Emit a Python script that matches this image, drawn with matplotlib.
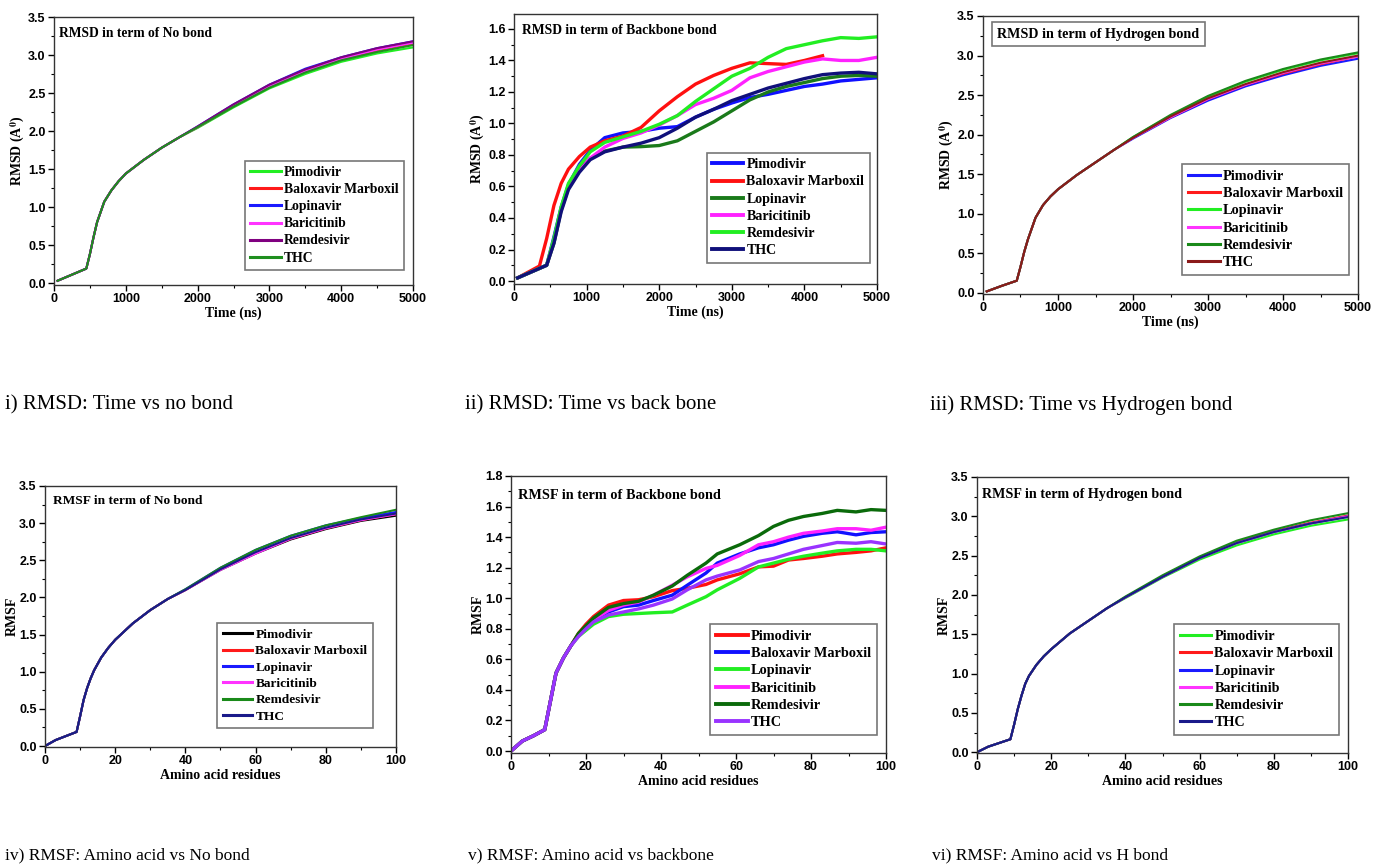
import matplotlib
matplotlib.use('Agg')
import matplotlib.pyplot as plt
from matplotlib.ticker import MultipleLocator
import numpy as np

plt.rcParams['mathtext.fontset'] = 'stix'

drugs = ['Pimodivir', 'Baloxavir Marboxil', 'Lopinavir', 'Baricitinib', 'Remdesivir', 'THC']

# ---- i) RMSD, no bond (shared start, separate tails) ----
t1_head = [50, 250, 450, 500, 550, 600, 700, 800, 900, 1000, 1250, 1500, 1750]
r1_head = [0.03, 0.11, 0.19, 0.38, 0.60, 0.80, 1.07, 1.22, 1.34, 1.44, 1.62, 1.78, 1.92]
t1_tail = [2000, 2500, 3000, 3500, 4000, 4500, 5000]
r1_tail = [
    [2.04, 2.31, 2.56, 2.75, 2.91, 3.02, 3.10],
    [2.05, 2.33, 2.58, 2.78, 2.94, 3.06, 3.15],
    [2.06, 2.35, 2.61, 2.82, 2.97, 3.09, 3.18],
    [2.05, 2.33, 2.59, 2.79, 2.95, 3.07, 3.16],
    [2.06, 2.35, 2.61, 2.81, 2.97, 3.09, 3.18],
    [2.05, 2.32, 2.57, 2.77, 2.93, 3.04, 3.13],
]

# ---- ii) RMSD, backbone ----
t2 = [50, 350, 450, 550, 650, 750, 900, 1050, 1250, 1500, 1750, 2000, 2250, 2500,
      2750, 3000, 3250, 3500, 3750, 4000, 4250, 4500, 4750, 5000]
r2 = [
    [0.02, 0.08, 0.10, 0.28, 0.47, 0.61, 0.74, 0.83, 0.91, 0.94, 0.95, 0.97, 0.98, 1.04,
     1.09, 1.13, 1.165, 1.185, 1.21, 1.235, 1.25, 1.27, 1.28, 1.29],
    [0.02, 0.095, 0.27, 0.48, 0.62, 0.71, 0.79, 0.85, 0.89, 0.92, 0.975, 1.08, 1.17, 1.25,
     1.305, 1.35, 1.385, 1.38, 1.375, 1.40, 1.43, np.nan, np.nan, np.nan],
    [0.02, 0.08, 0.10, 0.24, 0.45, 0.59, 0.71, 0.78, 0.825, 0.85, 0.853, 0.86, 0.89, 0.95,
     1.01, 1.08, 1.15, 1.20, 1.235, 1.26, 1.285, 1.30, 1.305, 1.30],
    [0.02, 0.08, 0.10, 0.26, 0.46, 0.60, 0.70, 0.78, 0.85, 0.905, 0.94, 0.99, 1.05, 1.12,
     1.16, 1.21, 1.29, 1.33, 1.36, 1.39, 1.41, 1.40, 1.40, 1.42],
    [0.02, 0.08, 0.10, 0.27, 0.47, 0.62, 0.73, 0.82, 0.88, 0.915, 0.95, 0.995, 1.05, 1.14,
     1.22, 1.30, 1.35, 1.42, 1.475, 1.50, 1.525, 1.545, 1.54, 1.55],
    [0.02, 0.08, 0.10, 0.24, 0.44, 0.58, 0.69, 0.77, 0.82, 0.85, 0.875, 0.91, 0.97, 1.04,
     1.09, 1.145, 1.185, 1.225, 1.255, 1.285, 1.31, 1.32, 1.325, 1.315],
]

# ---- iii) RMSD, hydrogen bond ----
t3_head = [50, 250, 450, 500, 550, 600, 700, 800, 900, 1000, 1250, 1500, 1750]
r3_head = [0.02, 0.09, 0.155, 0.33, 0.52, 0.68, 0.95, 1.11, 1.22, 1.31, 1.49, 1.65, 1.81]
t3_tail = [2000, 2500, 3000, 3500, 4000, 4500, 5000]
r3_tail = [
    [1.95, 2.21, 2.43, 2.61, 2.75, 2.87, 2.96],
    [1.96, 2.22, 2.45, 2.63, 2.77, 2.89, 2.99],
    [1.97, 2.24, 2.48, 2.67, 2.82, 2.94, 3.03],
    [1.96, 2.22, 2.45, 2.63, 2.78, 2.90, 2.99],
    [1.97, 2.25, 2.49, 2.68, 2.83, 2.95, 3.04],
    [1.96, 2.23, 2.46, 2.64, 2.79, 2.91, 3.00],
]

# ---- iv) RMSF, no bond ----
a4_head = [0, 3, 9, 10, 11, 12, 13, 14, 16, 18, 20, 25, 30, 35]
f4_head = [0.0, 0.08, 0.19, 0.40, 0.62, 0.78, 0.91, 1.02, 1.19, 1.32, 1.43, 1.65, 1.83, 1.98]
a4_tail = [40, 50, 60, 70, 80, 90, 100]
f4_tail = [
    [2.10, 2.37, 2.59, 2.78, 2.92, 3.03, 3.10],
    [2.10, 2.38, 2.60, 2.79, 2.93, 3.04, 3.12],
    [2.11, 2.40, 2.64, 2.83, 2.97, 3.07, 3.15],
    [2.10, 2.37, 2.59, 2.79, 2.93, 3.04, 3.12],
    [2.11, 2.40, 2.64, 2.83, 2.97, 3.08, 3.18],
    [2.10, 2.38, 2.61, 2.80, 2.94, 3.05, 3.13],
]

# ---- v) RMSF, backbone ----
a5_head = [0, 3, 6, 9, 12, 14, 16]
f5_head = [0.0, 0.065, 0.10, 0.14, 0.51, 0.61, 0.69]
a5_tail = [18, 20, 22, 26, 30, 34, 38, 43, 47, 52, 55, 61, 66, 70, 74, 78, 83, 87, 92, 96, 100]
f5_tail = [
    [0.77, 0.83, 0.88, 0.955, 0.985, 0.99, 1.01, 1.05, 1.065, 1.09, 1.12, 1.16, 1.205, 1.21,
     1.25, 1.26, 1.275, 1.29, 1.30, 1.31, 1.33],
    [0.76, 0.81, 0.86, 0.91, 0.945, 0.955, 0.985, 1.02, 1.085, 1.165, 1.23, 1.29, 1.33, 1.35,
     1.38, 1.405, 1.425, 1.435, 1.415, 1.43, 1.435],
    [0.75, 0.79, 0.83, 0.88, 0.895, 0.90, 0.905, 0.91, 0.955, 1.01, 1.055, 1.13, 1.205, 1.23,
     1.255, 1.275, 1.295, 1.31, 1.32, 1.32, 1.31],
    [0.76, 0.81, 0.86, 0.92, 0.955, 0.975, 1.02, 1.085, 1.14, 1.195, 1.215, 1.28, 1.35, 1.37,
     1.40, 1.425, 1.44, 1.455, 1.455, 1.445, 1.465],
    [0.77, 0.82, 0.87, 0.94, 0.965, 0.98, 1.02, 1.08, 1.15, 1.23, 1.29, 1.35, 1.41, 1.47,
     1.51, 1.535, 1.555, 1.575, 1.565, 1.58, 1.575],
    [0.75, 0.80, 0.845, 0.89, 0.91, 0.93, 0.955, 0.995, 1.055, 1.12, 1.145, 1.185, 1.24, 1.26,
     1.29, 1.32, 1.345, 1.365, 1.36, 1.37, 1.355],
]

# ---- vi) RMSF, hydrogen bond ----
a6_head = [0, 3, 9, 10, 11, 12, 13, 14, 16, 18, 20, 25, 30, 35]
f6_head = [0.0, 0.07, 0.165, 0.35, 0.55, 0.72, 0.87, 0.97, 1.11, 1.22, 1.31, 1.51, 1.67, 1.83]
a6_tail = [40, 50, 60, 70, 80, 90, 100]
f6_tail = [
    [1.96, 2.22, 2.45, 2.63, 2.77, 2.88, 2.96],
    [1.97, 2.24, 2.48, 2.67, 2.81, 2.92, 3.01],
    [1.97, 2.23, 2.47, 2.66, 2.80, 2.91, 3.00],
    [1.97, 2.23, 2.47, 2.66, 2.80, 2.91, 3.00],
    [1.98, 2.25, 2.49, 2.69, 2.83, 2.95, 3.04],
    [1.97, 2.23, 2.47, 2.66, 2.80, 2.91, 2.99],
]

colors1 = ['#22ee22', '#ff1a1a', '#1a1aff', '#ff33ff', '#800080', '#1f8f1f']
colors2 = ['#1010ff', '#ff1010', '#1a7a1a', '#ff22ff', '#22ee22', '#10107a']
colors3 = ['#1a1aff', '#ff1a1a', '#22ee22', '#ff33ff', '#1a8a1a', '#8b1a1a']
colors4 = ['#000000', '#ff1a1a', '#1a1aff', '#ff33ff', '#1a8a1a', '#1a1a8a']
colors5 = ['#ff1010', '#1010ff', '#22ee22', '#ff22ff', '#0a6a0a', '#9933ff']
colors6 = ['#22ee22', '#ff1a1a', '#1a1aff', '#ff33ff', '#1a8a1a', '#1a1a8a']

SERIF = 'Liberation Serif'
SANS = 'Liberation Sans'

W, H = 1373, 865
fig = plt.figure(figsize=(W / 100, H / 100), dpi=100)


def box(l, t, r, b):
    return [l / W, 1 - b / H, (r - l) / W, (b - t) / H]


def panel(rect, xs, ys, colors, lw, ylim, ymaj, xlim, xmaj, title, xlabel, ylabel,
          leg_anchor, title_pos, tsize, lsize, title_box=False):
    ax = fig.add_axes(rect)
    for i in range(6):
        ax.plot(xs[i], ys[i], color=colors[i], lw=lw, label=drugs[i])
    ax.set_xlim(*xlim)
    ax.set_ylim(*ylim)
    ax.xaxis.set_major_locator(MultipleLocator(xmaj))
    ax.xaxis.set_minor_locator(MultipleLocator(xmaj / 2))
    ax.yaxis.set_major_locator(MultipleLocator(ymaj))
    ax.yaxis.set_minor_locator(MultipleLocator(ymaj / 2))
    ax.tick_params(which='major', direction='out', length=4, width=1, pad=2)
    ax.tick_params(which='minor', direction='out', length=2.5, width=0.8)
    for lab in ax.get_xticklabels() + ax.get_yticklabels():
        lab.set_fontfamily(SANS)
        lab.set_fontweight('bold')
        lab.set_fontsize(9)
    ax.set_xlabel(xlabel, fontfamily=SERIF, fontweight='bold', fontsize=10, labelpad=1)
    ax.set_ylabel(ylabel, fontfamily=SERIF, fontweight='bold', fontsize=10, labelpad=0.5)
    for s in ax.spines.values():
        s.set_linewidth(1.0)
        s.set_color('#333333')
    bb = None
    if title_box:
        bb = dict(boxstyle='square,pad=0.4', fc='white', ec='#777777', lw=1.2)
    ax.text(title_pos[0], title_pos[1], title, transform=ax.transAxes, ha='left', va='center',
            fontfamily=SERIF, fontweight='bold', fontsize=tsize, bbox=bb)
    leg = ax.legend(loc='lower right', bbox_to_anchor=leg_anchor, borderaxespad=0,
                    prop={'family': SERIF, 'weight': 'bold', 'size': lsize},
                    fancybox=False, edgecolor='#777777', framealpha=1,
                    handlelength=2.2, handletextpad=0.25, labelspacing=0.3,
                    borderpad=0.4)
    leg.get_frame().set_linewidth(1.2)
    for h in leg.get_lines():
        h.set_linewidth(max(lw, 1.8) + 0.4)
    return ax


ylab_rmsd = r'RMSD (A$^{\mathbf{0}}$)'

panel(box(54, 17, 413, 285),
      [t1_head + t1_tail] * 6, [r1_head + r for r in r1_tail], colors1, 1.5,
      (-0.026, 3.5), 0.5, (0, 5000), 1000, 'RMSD in term of No bond', 'Time (ns)', ylab_rmsd,
      (0.975, 0.056), (0.014, 0.937), 9.75, 9.85)

panel(box(514, 14, 877, 284),
      [t2] * 6, r2, colors2, 2.4,
      (-0.019, 1.695), 0.2, (0, 5000), 1000, 'RMSD in term of Backbone bond', 'Time (ns)',
      ylab_rmsd, (0.981, 0.078), (0.022, 0.94), 9.85, 10.1)

panel(box(983, 16, 1358, 294),
      [t3_head + t3_tail] * 6, [r3_head + r for r in r3_tail], colors3, 1.5,
      (-0.013, 3.5), 0.5, (0, 5000), 1000, 'RMSD in term of Hydrogen bond', 'Time (ns)',
      ylab_rmsd, (0.976, 0.068), (0.038, 0.935), 10.2, 10.3, title_box=True)

panel(box(45, 486, 396, 747),
      [a4_head + a4_tail] * 6, [f4_head + f for f in f4_tail], colors4, 1.5,
      (-0.013, 3.5), 0.5, (0, 100), 20, 'RMSF in term of No bond', 'Amino acid residues',
      'RMSF', (0.934, 0.073), (0.023, 0.943), 9.6, 9.6)

panel(box(511, 476, 886, 753),
      [a5_head + a5_tail] * 6, [f5_head + f for f in f5_tail], colors5, 2.4,
      (-0.013, 1.8), 0.2, (0, 100), 20, 'RMSF in term of Backbone bond', 'Amino acid residues',
      'RMSF', (0.976, 0.065), (0.019, 0.931), 10.3, 10.3)

panel(box(977, 477, 1348, 753),
      [a6_head + a6_tail] * 6, [f6_head + f for f in f6_tail], colors6, 1.5,
      (-0.01, 3.5), 0.5, (0, 100), 20, 'RMSF in term of Hydrogen bond', 'Amino acid residues',
      'RMSF', (0.976, 0.065), (0.013, 0.935), 10.2, 10.2)

captions_top = ['i) RMSD: Time vs no bond', 'ii) RMSD: Time vs back bone',
                'iii) RMSD: Time vs Hydrogen bond']
captions_bottom = ['iv) RMSF: Amino acid vs No bond', 'v) RMSF: Amino acid vs backbone',
                   'vi) RMSF: Amino acid vs H bond']
for x, txt in zip([5, 465, 930], captions_top):
    fig.text(x / W, 1 - 405 / H, txt, ha='left', va='center', fontfamily=SERIF, fontsize=15)
for x, txt in zip([5, 468, 932], captions_bottom):
    fig.text(x / W, 1 - 855 / H, txt, ha='left', va='center', fontfamily=SERIF, fontsize=12.5)

fig.savefig('out.png', dpi=100)
